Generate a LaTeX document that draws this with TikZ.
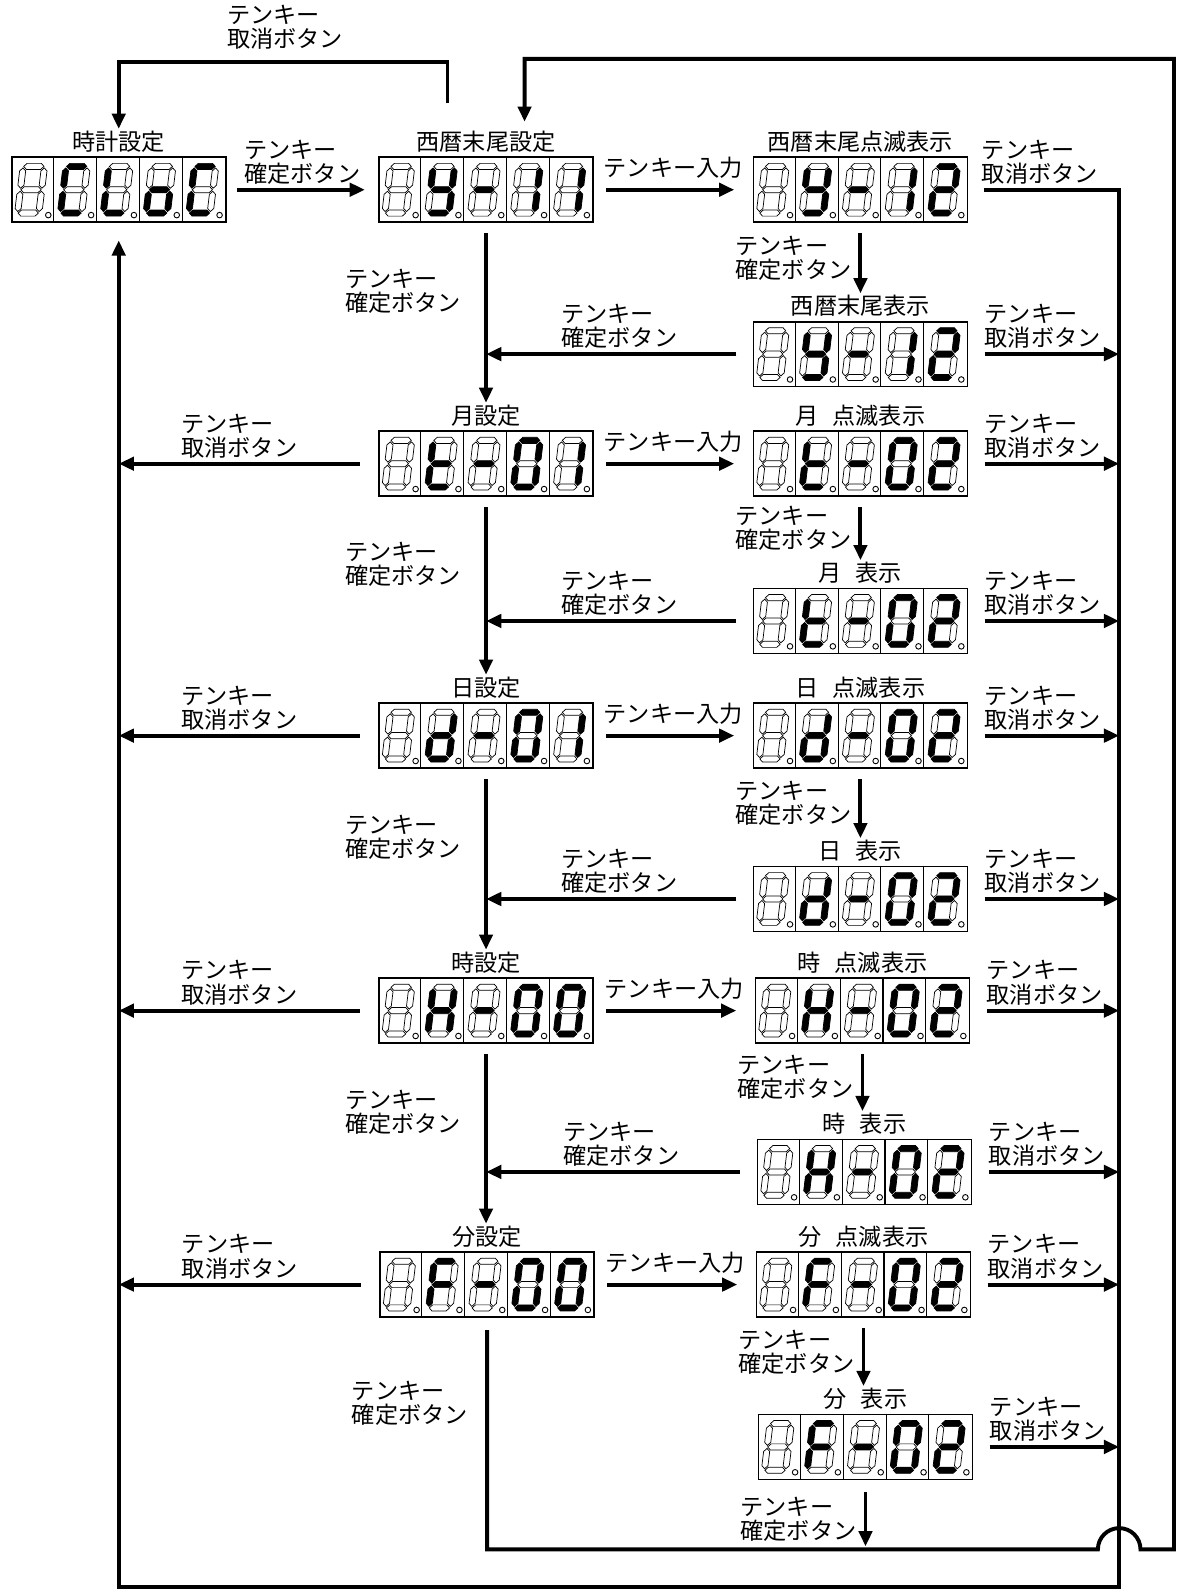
\documentclass[tikz,border=0pt]{standalone}
\usepackage{fontspec}
\setmainfont{Noto Sans CJK JP}
\usepackage{xstring}
\usetikzlibrary{arrows.meta, positioning}

\tikzset{
  flowline/.style={line width=2.2pt},
  flowarrow/.style={line width=2.2pt, -{Triangle[length=0.3cm, width=0.26cm]}},
  dispbox/.style={draw, line width=1pt, minimum width=4.22cm, minimum height=1.28cm, inner sep=0pt},
  cellline/.style={line width=0.6pt},
  dispname/.style={font=\fontsize{13}{13.6}\selectfont, inner sep=1pt},
  keylabel/.style={font=\fontsize{13}{13.6}\selectfont, align=left, inner sep=1pt}
}

% one seven-segment digit: centre x, centre y, lit segments (as a string)
\newcommand{\digitcell}[3]{%
  \foreach \s/\px/\py/\rot in {a/0/-23/0, b/10.5/-11.5/90, c/10.5/11.5/90, d/0/23/0,
                               e/-10.5/11.5/90, f/-10.5/-11.5/90, g/0/0/0} {
    \IfSubStr{#3}{\s}{\def\segfill{black}}{\def\segfill{white}}
    \path[draw, line width=0.4pt, fill=\segfill, shift={({#1-2},{#2})}, xslant=0.12,
          shift={(\px,\py)}, rotate=\rot]
      (-10,0) -- (-7,-3) -- (7,-3) -- (10,0) -- (7,3) -- (-7,3) -- cycle;
  }
  \draw[line width=0.5pt] ({#1+15},{#2+25}) circle (0.055cm);
}

% five-cell display: name, centre x, centre y, lit segments of cells 2-5
\newcommand{\segdisplay}[4]{%
  \node[dispbox] (#1) at (#2,#3) {};
  \foreach \k in {1,...,4}
    \draw[cellline] ([xshift=\k*0.844cm]#1.north west) -- ([xshift=\k*0.844cm]#1.south west);
  \pgfmathsetmacro\cxfirst{#2-84.4}
  \digitcell{\cxfirst}{#3}{-}
  \foreach \segs [count=\i] in {#4} {
    \pgfmathsetmacro\cx{#2+(\i-2)*42.2}
    \digitcell{\cx}{#3}{\segs}
  }
}

\begin{document}
\begin{tikzpicture}[x=0.02cm, y=-0.02cm]
\useasboundingbox (0,0) rectangle (1160,1568);

% ===== Displays =====
\segdisplay{clk}{117}{187}{afed,fed,gcde,afed}
\segdisplay{ys}{479}{187}{fbgcd,g,bc,bc}
\segdisplay{yb}{848}{187}{fbgcd,g,bc,abged}
\segdisplay{yd}{848}{349}{fbgcd,g,bc,abged}
\segdisplay{ms}{479}{457}{fedg,g,abcdef,bc}
\segdisplay{mb}{848}{457}{fedg,g,abcdef,abged}
\segdisplay{md}{848}{612}{fedg,g,abcdef,abged}
\segdisplay{ds}{479}{725}{bcdeg,g,abcdef,bc}
\segdisplay{db}{848}{725}{bcdeg,g,abcdef,abged}
\segdisplay{dd}{848}{886}{bcdeg,g,abcdef,abged}
\segdisplay{hs}{479}{996}{bcefg,g,abcdef,abcdef}
\segdisplay{hb}{850}{996}{bcefg,g,abcdef,abged}
\segdisplay{hd}{852}{1155}{bcefg,g,abcdef,abged}
\segdisplay{fs}{480}{1266}{afeg,g,abcdef,abcdef}
\segdisplay{fb}{851}{1266}{afeg,g,abcdef,abged}
\segdisplay{fd}{853}{1426}{afeg,g,abcdef,abged}

% titles
\node[dispname, above=1pt of clk] (clkT) {時計設定};
\node[dispname, above=1pt of ys] (ysT) {西暦末尾設定};
\node[dispname, above=1pt of yb] (ybT) {西暦末尾点滅表示};
\node[dispname, above=1pt of yd] (ydT) {西暦末尾表示};
\node[dispname, above=1pt of ms] (msT) {月設定};
\node[dispname, above=1pt of mb] (mbT) {月\hspace{0.6em}点滅表示};
\node[dispname, above=1pt of md] (mdT) {月\hspace{0.6em}表示};
\node[dispname, above=1pt of ds] (dsT) {日設定};
\node[dispname, above=1pt of db] (dbT) {日\hspace{0.6em}点滅表示};
\node[dispname, above=1pt of dd] (ddT) {日\hspace{0.6em}表示};
\node[dispname, above=1pt of hs] (hsT) {時設定};
\node[dispname, above=1pt of hb] (hbT) {時\hspace{0.6em}点滅表示};
\node[dispname, above=1pt of hd] (hdT) {時\hspace{0.6em}表示};
\node[dispname, above=1pt of fs] (fsT) {分設定};
\node[dispname, above=1pt of fb] (fbT) {分\hspace{0.6em}点滅表示};
\node[dispname, above=1pt of fd] (fdT) {分\hspace{0.6em}表示};

% ===== Cancel from year setting back to clock =====
\coordinate (ysCancel) at (441,102);
\draw[flowarrow] (ysCancel) -- (441,61) -| (clkT.north);
\node[keylabel] (lblTop) at (281,27) {テンキー\\取消ボタン};

% clock -> year setting
\draw[flowarrow, shorten <=0.2cm, shorten >=0.26cm] (clk.east) -- (ys.west)
  node[keylabel, midway, above=1pt] {テンキー\\確定ボタン};

% ===== Big confirm loop (minute setting -> year setting) =====
\coordinate (loopIn) at (517,120);
\coordinate (humpL) at (1082,1527);
\draw[flowarrow] ([yshift=-0.24cm]fs.south) |- (humpL)
  arc[start angle=180, end angle=0, radius=0.42cm] -- (1157,1527) -- (1157,58) -| (loopIn);
\node[keylabel] (lblLoop) at (404,1383) {テンキー\\確定ボタン};

\coordinate (botJoin) at (853,1524);
\draw[flowarrow] ([yshift=-0.24cm]fd.south) -- (botJoin)
  node[keylabel, midway, left=3pt] {テンキー\\確定ボタン};

% ===== Cancel bus on the right, back to clock =====
\coordinate (rTop) at (1103,187);
\coordinate (rBot) at (1103,1564);
\draw[flowarrow, shorten >=0.34cm] ([xshift=0.3cm]yb.east) -- (rTop)
  node[keylabel, pos=0, anchor=south west, yshift=1pt, xshift=-3pt] {テンキー\\取消ボタン}
  -- (rBot) -| (clk.south);

\foreach \d in {yd,mb,md,db,dd,hb,hd,fb,fd}
  \draw[flowarrow] ([xshift=0.32cm]\d.east) -- (\d.east -| rTop)
    node[keylabel, pos=0, anchor=south west, yshift=1pt, xshift=-2pt] {テンキー\\取消ボタン};

\foreach \d in {ms,ds,hs,fs}
  \draw[flowarrow] ([xshift=-0.36cm]\d.west) -- (\d.west -| clk.south)
    node[keylabel, midway, above=1pt] {テンキー\\取消ボタン};

% ===== Key input =====
\foreach \a/\b in {ys/yb, ms/mb, ds/db, hs/hb, fs/fb}
  \draw[flowarrow, shorten <=0.24cm, shorten >=0.36cm] (\a.east) -- (\a.east -| \b.west)
    node[keylabel, midway, above=4pt] {テンキー入力};

% blinking -> shown
\foreach \a/\b in {yb/ydT, mb/mdT, db/ddT, hb/hdT}
  \draw[flowarrow, shorten <=0.2cm] (\a.south) -- (\a.south |- \b.north)
    node[keylabel, midway, left=3pt] {テンキー\\確定ボタン};
\draw[flowarrow, shorten <=0.2cm] (fb.south) -- (fb.south |- fdT.north)
  node[keylabel, midway, left=3pt] {テンキー\\確定ボタン};

% shown -> next setting
\foreach \a/\b in {yd/ys, md/ms, dd/ds, hd/hs}
  \draw[flowarrow, shorten <=0.32cm] (\a.west) -- (\a.west -| \b.south)
    node[keylabel, midway, above=1pt] {テンキー\\確定ボタン};

% setting -> next setting
\foreach \a/\b in {ys/msT, ms/dsT, ds/hsT, hs/fsT}
  \draw[flowarrow, shorten <=0.2cm] (\a.south) -- (\a.south |- \b.north)
    node[keylabel, pos=0.38, left=12pt] {テンキー\\確定ボタン};

\end{tikzpicture}
\end{document}
